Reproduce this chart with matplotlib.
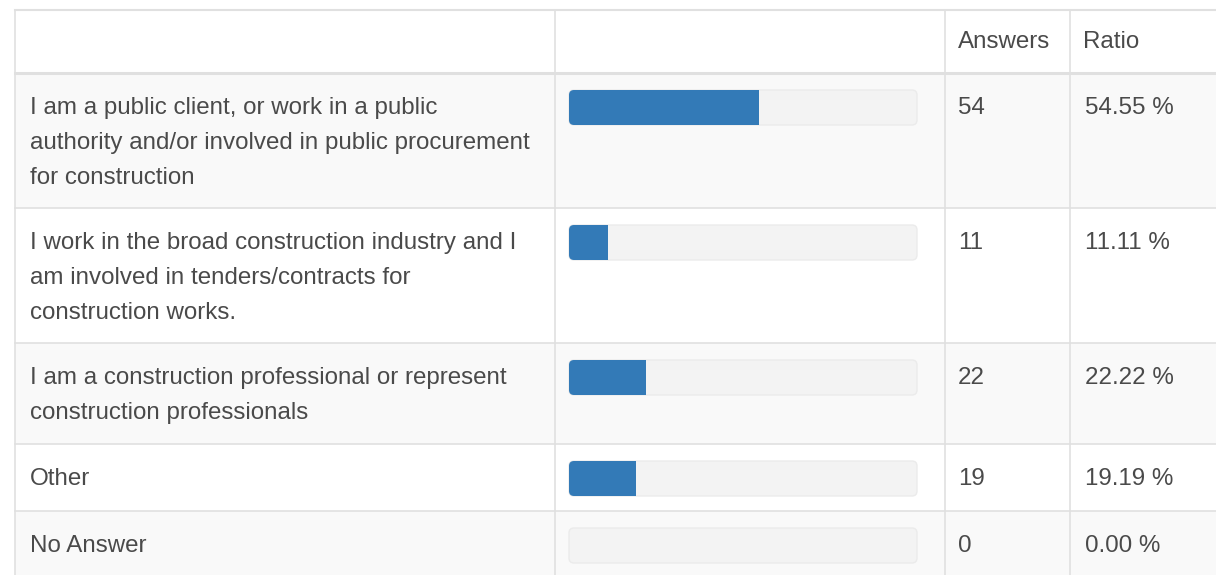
import matplotlib.pyplot as plt
from matplotlib.patches import FancyBboxPatch, Rectangle

labels = [
    "I am a public client, or work in a public\nauthority and/or involved in public procurement\nfor construction",
    "I work in the broad construction industry and I\nam involved in tenders/contracts for\nconstruction works.",
    "I am a construction professional or represent\nconstruction professionals",
    "Other",
    "No Answer",
]
answers = [54, 11, 22, 19, 0]
ratios = [54.55, 11.11, 22.22, 19.19, 0.00]
headers = ["", "", "Answers", "Ratio"]

plt.rcParams['font.family'] = ['Liberation Sans', 'DejaVu Sans']
W, H = 1216, 575
fig = plt.figure(figsize=(W / 100, H / 100), dpi=100)
ax = fig.add_axes([0, 0, 1, 1])
ax.set_xlim(0, W)
ax.set_ylim(H, 0)
ax.axis('off')

line_c = '#e0e0e0'
text_c = '#4a4a4a'
fs = 17.4
lh = 35  # line height in px
col_x = [15, 555, 945, 1070, 1230]
top, head_bot = 10, 73

# row extents from number of text lines
rows = []
y = head_bot
for lab in labels:
    n = lab.count('\n') + 1
    h = 33 + 34 * n
    rows.append((y, y + h))
    y += h
rows[-1] = (rows[-1][0], H + 20)

for i, (y0, y1) in enumerate(rows):
    bg = '#f9f9f9' if i % 2 == 0 else 'white'
    ax.add_patch(Rectangle((col_x[0], y0), col_x[-1] - col_x[0], y1 - y0,
                           facecolor=bg, edgecolor='none', zorder=0))

# grid lines
ax.plot([col_x[0], W], [top, top], color=line_c, lw=1.5, zorder=3)
ax.plot([col_x[0], W], [head_bot, head_bot], color=line_c, lw=2.2, zorder=3)
for y0, y1 in rows[1:]:
    ax.plot([col_x[0], W], [y0, y0], color=line_c, lw=1.2, zorder=3)
for x in col_x[:4]:
    ax.plot([x, x], [top, H], color=line_c, lw=1.2, zorder=3)

# header
for j, hd in enumerate(headers):
    if hd:
        ax.text(col_x[j] + 13, 42, hd, fontsize=fs, color=text_c,
                va='center', ha='left')

bx0, bx1 = 569, 917
for i, (y0, y1) in enumerate(rows):
    ty = y0 + 35
    for k, part in enumerate(labels[i].split('\n')):
        ax.text(30, ty + k * lh, part, fontsize=fs, color=text_c,
                va='center', ha='left')
    ax.text(958, ty, str(answers[i]), fontsize=fs, color=text_c,
            va='center', ha='left')
    ax.text(1085, ty, f"{ratios[i]:.2f} %", fontsize=fs, color=text_c,
            va='center', ha='left')
    by = y0 + 17
    track = FancyBboxPatch((bx0, by), bx1 - bx0, 35,
                           boxstyle='round,pad=0,rounding_size=5',
                           facecolor='#f3f3f3', edgecolor='#ebebeb', lw=1,
                           zorder=2)
    ax.add_patch(track)
    if ratios[i] > 0:
        fw = (bx1 - bx0) * ratios[i] / 100
        fill = FancyBboxPatch((bx0, by), bx1 - bx0, 35,
                              boxstyle='round,pad=0,rounding_size=5',
                              facecolor='#337ab7', edgecolor='none', zorder=2.5)
        ax.add_patch(fill)
        clip = Rectangle((bx0 - 2, by - 2), fw + 2, 40, transform=ax.transData)
        fill.set_clip_path(clip)

fig.savefig('out.png', dpi=100, facecolor='white')
